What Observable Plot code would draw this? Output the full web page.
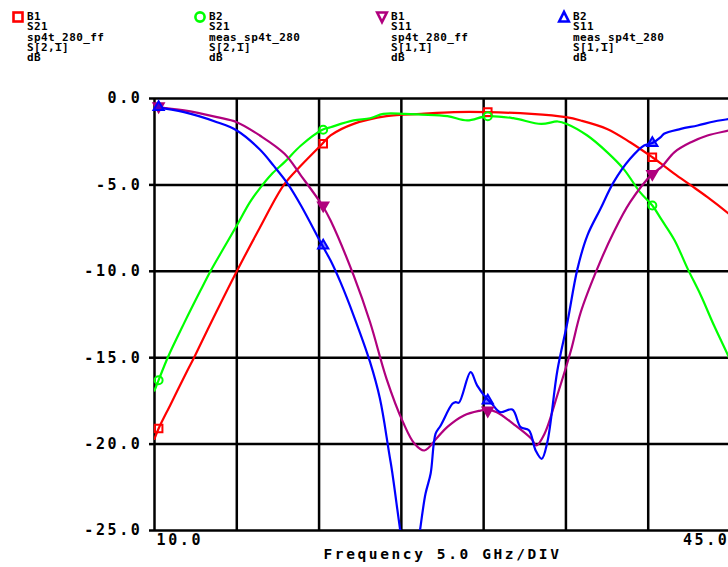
<!DOCTYPE html>
<html><head><meta charset="utf-8">
<script src="https://cdn.jsdelivr.net/npm/d3@7"></script>
<script src="https://cdn.jsdelivr.net/npm/@observablehq/plot@0.6"></script>
<style>
html,body{margin:0;padding:0;background:#fff;overflow:hidden;}
#wrap{position:relative;width:728px;height:567px;overflow:hidden;}
#chart{position:absolute;left:0;top:0;}
#chart svg text{letter-spacing:2.6px;}
.leg{position:absolute;top:12px;font:bold 11px "DejaVu Sans Mono",monospace;letter-spacing:0.4px;line-height:10.3px;color:#000;white-space:pre;}
.sym{position:absolute;top:11px;overflow:visible;}
</style></head><body>
<div id="wrap"><div id="chart"></div><div id="legend"></div></div>
<script>
// ---- data ----
const xGridTicks = [10, 15, 20, 25, 30, 35, 40, 45];
const yTicks = [0, -5, -10, -15, -20, -25];
const xTickLabels = ["10.0", "45.0"];
const xLabel = "Frequency 5.0 GHz/DIV";

// B1 S21 sp4t_280_ff (red)
const s21ffFreq = [10, 10.25, 11, 12, 12.4, 13.5, 15, 16.4, 17.86, 18.9, 20.2, 20.7, 22.1, 24.1, 26.2, 28.2, 30.2, 32.9, 35, 35.9, 37.5, 38.9, 40.25, 40.8, 41.6, 42.6, 43.6, 44.9, 45];
const s21ffDb   = [-19.7, -19.1, -17.66, -15.74, -15.0, -12.85, -10.0, -7.48, -5.0, -3.88, -2.62, -2.14, -1.47, -1.02, -0.89, -0.79, -0.79, -0.89, -1.08, -1.27, -1.76, -2.53, -3.4, -3.78, -4.36, -5.03, -5.71, -6.67, -6.75];
// B2 S21 meas_sp4t_280 (green)
const s21measFreq = [10, 10.25, 10.8, 11.8, 12.8, 13.4, 14.2, 15, 15.8, 16.4, 17.1, 17.9, 18.9, 20.2, 20.7, 22.1, 23.1, 23.9, 25.2, 26.2, 27.8, 29.0, 30.2, 31.8, 33.5, 34.5, 35.05, 36.3, 37.5, 38.5, 39.5, 40.25, 40.8, 41.6, 42.4, 43.2, 44.0, 44.9, 45];
const s21measDb   = [-16.9, -16.3, -15.0, -13.0, -11.1, -10.0, -8.67, -7.35, -6.0, -5.2, -4.4, -3.68, -2.72, -1.81, -1.66, -1.27, -1.14, -0.89, -0.89, -0.93, -1.02, -1.27, -1.02, -1.14, -1.47, -1.33, -1.47, -2.14, -3.1, -4.07, -5.42, -6.19, -7.0, -8.2, -9.86, -11.4, -13.14, -14.97, -15.2];
// B1 S11 sp4t_280_ff (purple)
const s11ffFreq = [10, 11.8, 13.8, 15, 16.4, 17.9, 18.9, 20.2, 20.7, 22.1, 23.1, 24.1, 25.1, 25.8, 26.4, 27.2, 27.8, 28.8, 29.8, 30.2, 30.8, 31.8, 32.9, 33.2, 33.7, 34.5, 35.3, 35.9, 36.9, 37.9, 38.9, 40.25, 40.8, 41.6, 42.6, 43.6, 44.9, 45];
const s11ffDb   = [-0.5, -0.69, -1.08, -1.37, -2.14, -3.2, -4.46, -6.19, -7.06, -10.24, -12.95, -16.22, -18.73, -19.98, -20.37, -19.6, -19.0, -18.34, -18.06, -18.0, -18.15, -18.83, -19.69, -20.08, -19.4, -17.1, -14.6, -12.37, -9.86, -7.74, -6.0, -4.36, -3.97, -3.1, -2.53, -2.14, -1.85, -1.82];
// B2 S11 meas_sp4t_280 (blue)
const s11measFreq = [10, 11.8, 13.8, 15, 16.4, 17.25, 18.1, 18.9, 20.2, 20.7, 21.3, 22.1, 23.1, 23.7, 24.35, 25.55, 26.47, 26.78, 27.08, 27.39, 28.1, 28.3, 28.5, 29.21, 29.6, 30.2, 30.5, 31.0, 31.74, 32.25, 32.75, 33.16, 33.53, 33.87, 34.48, 35.09, 35.7, 36.3, 37.1, 37.9, 38.9, 39.75, 40.25, 40.76, 40.96, 41.98, 43.0, 44.0, 44.9, 45];
const s11measDb   = [-0.5, -0.79, -1.37, -1.85, -2.95, -3.9, -4.94, -6.19, -8.51, -9.38, -10.63, -12.56, -15.26, -17.38, -21.05, -27.6, -22.86, -21.7, -19.4, -18.92, -17.67, -17.57, -17.6, -15.84, -16.6, -17.38, -17.67, -18.15, -18.0, -19.02, -19.2, -20.37, -20.85, -19.89, -15.74, -12.95, -9.86, -7.93, -6.38, -4.84, -3.49, -2.72, -2.58, -2.24, -2.04, -1.76, -1.56, -1.33, -1.18, -1.15];

// markers
const markerFreq = [10.25, 20.25, 30.25, 40.25];
const s21ffMarkers   = [-19.1, -2.62, -0.79, -3.4];
const s21measMarkers = [-16.3, -1.81, -1.02, -6.19];
const s11ffMarkers   = [-0.45, -6.19, -18.06, -4.36];
const s11measMarkers = [-0.5, -8.51, -17.48, -2.58];

// legend
const legendNames = [
  ["B1", "S21", "sp4t_280_ff", "S[2,1]", "dB"],
  ["B2", "S21", "meas_sp4t_280", "S[2,1]", "dB"],
  ["B1", "S11", "sp4t_280_ff", "S[1,1]", "dB"],
  ["B2", "S11", "meas_sp4t_280", "S[1,1]", "dB"]
];
const colors = ["#ff0000", "#00ff00", "#b0007e", "#0000ff"];

// ---- build ----
const rows = (f, v) => f.map((x, i) => ({f: x, db: v[i]}));
const lineOpts = (c) => ({x: "f", y: "db", stroke: c, strokeWidth: 2.2, strokeLinejoin: "round", curve: "catmull-rom", clip: true});

const chart = Plot.plot({
  width: 730, height: 567,
  marginTop: 98, marginBottom: 37, marginLeft: 154, marginRight: 0,
  x: {domain: [10, 45], axis: null},
  y: {domain: [-25, 0], axis: null},
  style: {maxWidth: "none", fontFamily: "'DejaVu Sans Mono', monospace", fontWeight: "bold", fontSize: "15px", color: "#000", background: "white"},
  marks: [
    Plot.gridX(xGridTicks, {stroke: "#000", strokeOpacity: 1, strokeWidth: 2.5}),
    Plot.gridY(yTicks, {stroke: "#000", strokeOpacity: 1, strokeWidth: 2.5}),
    Plot.axisY(yTicks, {tickSize: 5, tickPadding: 7, strokeWidth: 2.5, tickFormat: d => d.toFixed(1), label: null, fontSize: 15}),
    Plot.text([10], {x: d => d, text: () => xTickLabels[0], frameAnchor: "bottom", textAnchor: "start", lineAnchor: "top", dy: 3.5, dx: 2, fontSize: 15}),
    Plot.text([45], {x: d => d, text: () => xTickLabels[1], frameAnchor: "bottom", textAnchor: "end", lineAnchor: "top", dy: 3.5, dx: -1, fontSize: 15}),
    Plot.text([xLabel], {text: d => d, frameAnchor: "bottom", lineAnchor: "top", dy: 18.5, fontSize: 14.5}),
    Plot.line(rows(s21ffFreq, s21ffDb), lineOpts(colors[0])),
    Plot.line(rows(s21measFreq, s21measDb), lineOpts(colors[1])),
    Plot.line(rows(s11ffFreq, s11ffDb), lineOpts(colors[2])),
    Plot.line(rows(s11measFreq, s11measDb), lineOpts(colors[3])),
    Plot.dot(rows(markerFreq, s21ffMarkers), {x: "f", y: "db", symbol: "square", r: 4.3, stroke: colors[0], strokeWidth: 2, fill: "none"}),
    Plot.dot(rows(markerFreq, s21measMarkers), {x: "f", y: "db", symbol: "circle", r: 4, stroke: colors[1], strokeWidth: 2, fill: "none"}),
    Plot.dot(rows(markerFreq, s11ffMarkers), {x: "f", y: "db", symbol: "triangle", rotate: 180, r: 3.8, stroke: colors[2], strokeWidth: 2, fill: colors[2]}),
    Plot.dot(rows(markerFreq, s11measMarkers), {x: "f", y: "db", symbol: "triangle", r: 3.8, stroke: colors[3], strokeWidth: 2, fill: colors[3], fillOpacity: 0.5})
  ]
});
document.getElementById("chart").appendChild(chart);

// legend (HTML text + small symbols)
const legend = document.getElementById("legend");
const textX = [27, 209, 391, 573];
const symSvg = [
  `<rect x="1.5" y="1.5" width="9" height="9" fill="none" stroke="${colors[0]}" stroke-width="2.6"/>`,
  `<circle cx="6" cy="6" r="4.6" fill="none" stroke="${colors[1]}" stroke-width="2.6"/>`,
  `<polygon points="1.2,1.5 10.8,1.5 6,11" fill="none" stroke="${colors[2]}" stroke-width="2.6" stroke-linejoin="miter"/>`,
  `<polygon points="1.2,10.5 10.8,10.5 6,1" fill="none" stroke="${colors[3]}" stroke-width="2.6" stroke-linejoin="miter"/>`
];
legendNames.forEach((lines, i) => {
  const d = document.createElement("div");
  d.className = "leg";
  d.style.left = textX[i] + "px";
  d.textContent = lines.join("\n");
  legend.appendChild(d);
  const s = document.createElementNS("http://www.w3.org/2000/svg", "svg");
  s.setAttribute("class", "sym");
  s.setAttribute("width", "12");
  s.setAttribute("height", "12");
  s.style.left = (textX[i] - 15) + "px";
  s.innerHTML = symSvg[i];
  legend.appendChild(s);
});
</script>
</body></html>
